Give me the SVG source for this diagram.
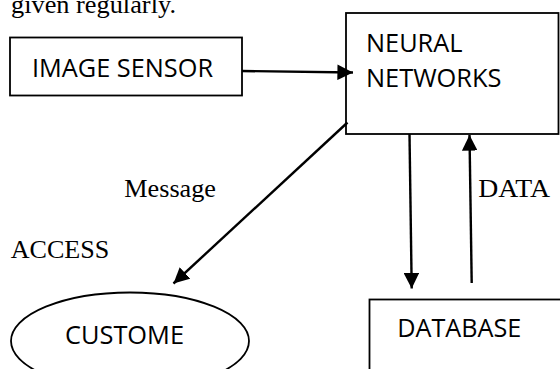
<svg xmlns="http://www.w3.org/2000/svg" width="560" height="369" viewBox="0 0 560 369">
<style>
.box{fill:#fff;stroke:#000;stroke-width:1.8}
.conn{stroke:#000;stroke-width:2.4;fill:none}
.sans{font-family:"Open Sans","Liberation Sans",sans-serif;font-size:26px;fill:#000}
.serif{font-family:"Liberation Serif","Times New Roman",serif;font-size:26px;fill:#000}
</style>
<defs>
<marker id="ah" viewBox="0 0 10 10" refX="10" refY="5" markerWidth="6.5" markerHeight="6.5" markerUnits="strokeWidth" orient="auto">
<path d="M0,0 L10,5 L0,10 z" fill="#000"/>
</marker>
</defs>
<rect width="560" height="369" fill="#fff"/>
<text class="serif" x="11" y="13" textLength="165" lengthAdjust="spacingAndGlyphs">given regularly.</text>
<g id="image-sensor">
<rect class="box" x="10" y="37.5" width="232" height="58"/>
<text class="sans" x="32" y="76.7" textLength="181" lengthAdjust="spacingAndGlyphs">IMAGE SENSOR</text>
</g>
<g id="neural-networks">
<rect class="box" x="346" y="13" width="212.5" height="121"/>
<text class="sans" x="366" y="51.7" textLength="96.5" lengthAdjust="spacingAndGlyphs">NEURAL</text>
<text class="sans" x="366" y="87.3" textLength="135.5" lengthAdjust="spacingAndGlyphs">NETWORKS</text>
</g>
<g id="customer">
<ellipse class="box" cx="130" cy="341" rx="119" ry="48.5"/>
<text class="sans" x="65" y="344.3" textLength="119" lengthAdjust="spacingAndGlyphs">CUSTOME</text>
</g>
<g id="database">
<rect class="box" x="369.5" y="299.5" width="200" height="80"/>
<text class="sans" x="397.3" y="337" textLength="124" lengthAdjust="spacingAndGlyphs">DATABASE</text>
</g>
<g id="connectors">
<line class="conn" x1="242" y1="71" x2="353" y2="72.5" marker-end="url(#ah)"/>
<line class="conn" x1="347.5" y1="122.5" x2="173.5" y2="283.5" marker-end="url(#ah)"/>
<line class="conn" x1="409.5" y1="134" x2="411.7" y2="288.5" marker-end="url(#ah)"/>
<line class="conn" x1="471.7" y1="283" x2="469.5" y2="135" marker-end="url(#ah)"/>
</g>
<text class="serif" x="124.3" y="196.7" textLength="91.7" lengthAdjust="spacingAndGlyphs">Message</text>
<text class="serif" x="10.7" y="257.7" textLength="98.6" lengthAdjust="spacingAndGlyphs">ACCESS</text>
<text class="serif" x="478.3" y="196.7" textLength="71.7" lengthAdjust="spacingAndGlyphs">DATA</text>
</svg>
